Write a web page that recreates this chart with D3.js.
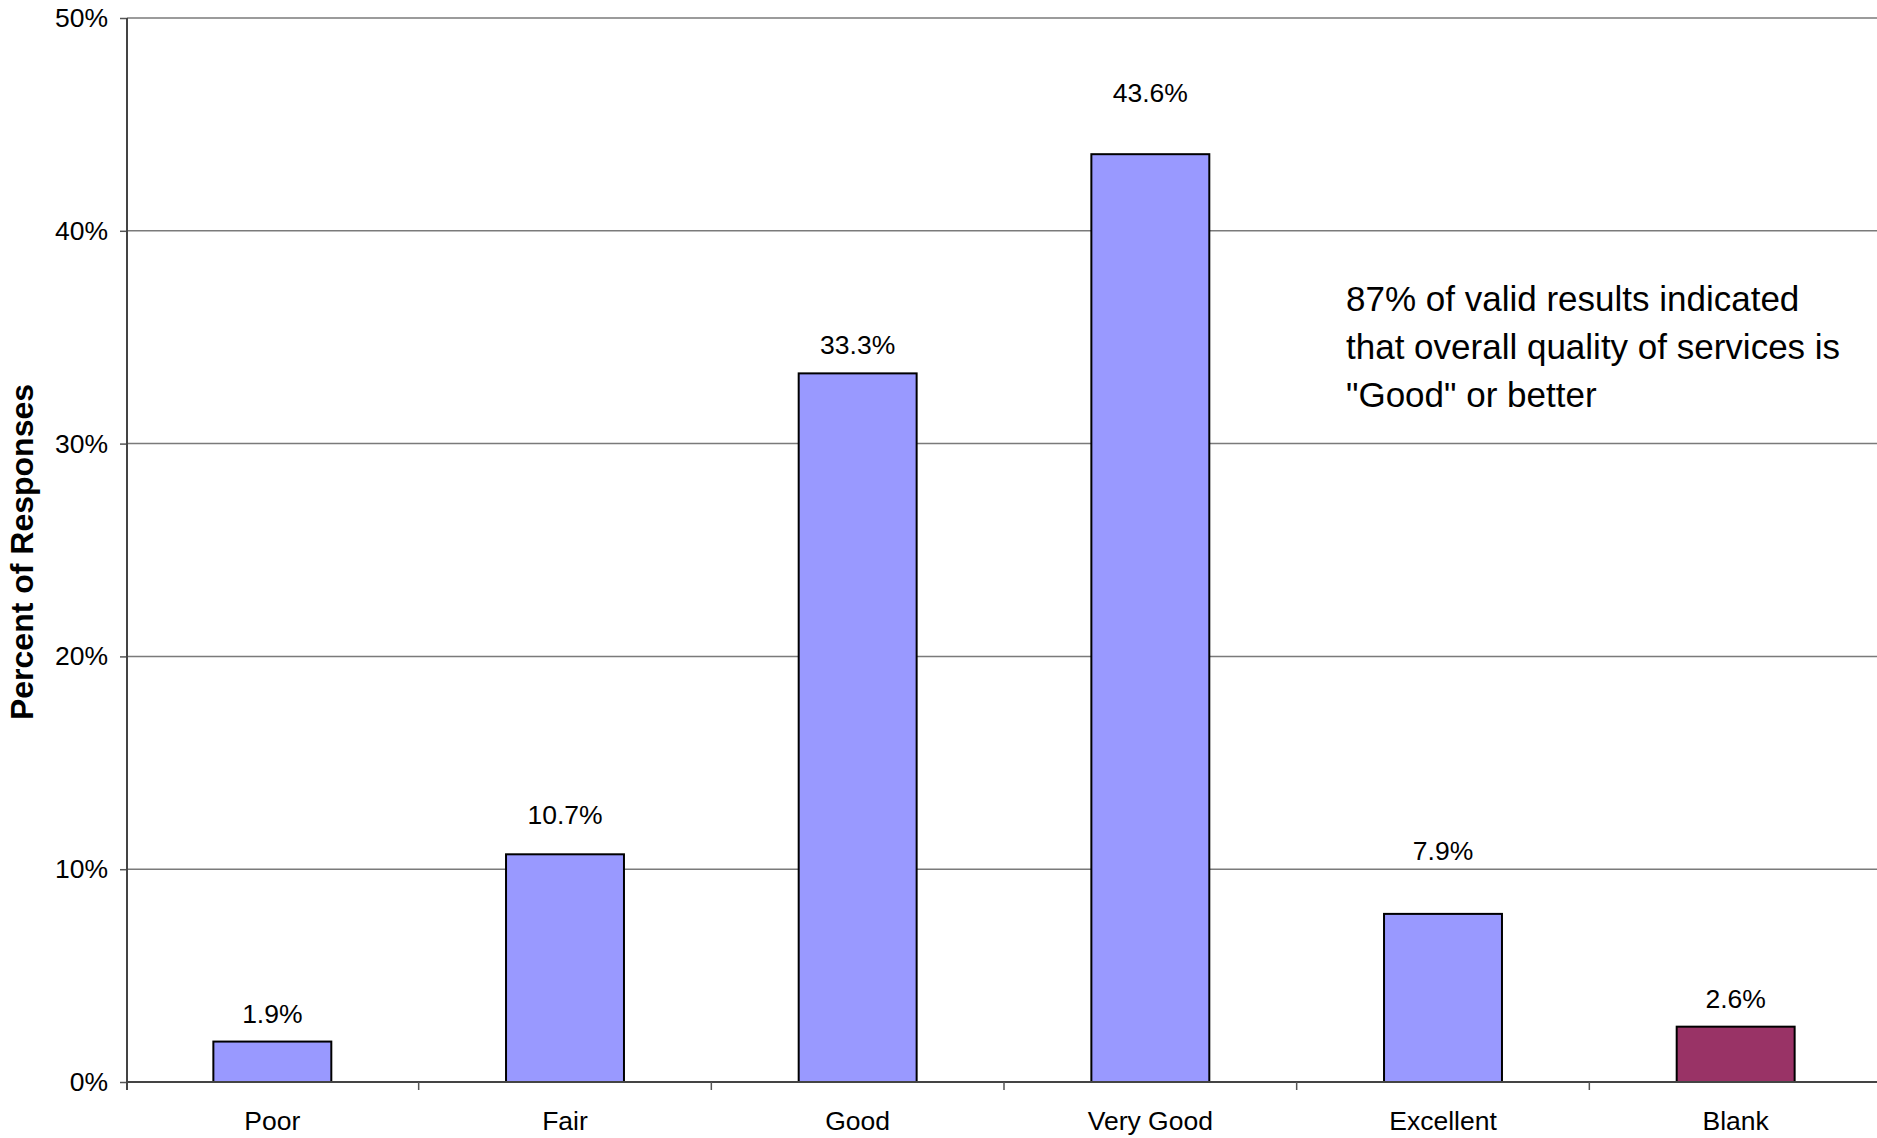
<!DOCTYPE html>
<html>
<head>
<meta charset="utf-8">
<script src="https://cdn.jsdelivr.net/npm/d3@7"></script>
<style>
  html, body { margin: 0; padding: 0; background: #fff; }
  svg { display: block; }
  text { font-family: "Liberation Sans", Arial, sans-serif; fill: #000; }
</style>
</head>
<body>
<svg id="chart" width="1877" height="1138"></svg>
<script>
// Survey responses: overall quality of services
const categories = ["Poor", "Fair", "Good", "Very Good", "Excellent", "Blank"];
const percents = [1.9, 10.7, 33.3, 43.6, 7.9, 2.6];
const yTicks = [0, 10, 20, 30, 40, 50];
const noteLines = [
  "87% of valid results indicated",
  "that overall quality of services is",
  "\"Good\" or better"
];
const yTitle = "Percent of Responses";

// Layout
const W = 1877, H = 1138;
const plot = { left: 127, top: 18, bottom: 1082, right: 1882 };
const validFill = "#9999FF", blankFill = "#993366";
// vertical distance (px) between bar top and its value label baseline
const labelGap = [19, 30, 19, 52, 54, 19];

const svg = d3.select("#chart");

const x = d3.scaleBand()
  .domain(categories)
  .range([plot.left - 1, plot.right])
  .padding(0);

const y = d3.scaleLinear()
  .domain([0, 50])
  .range([plot.bottom, plot.top]);

const barW = x.bandwidth() * 0.403;

// Horizontal gridlines
svg.append("g")
  .selectAll("line")
  .data(yTicks.filter(d => d > 0))
  .join("line")
  .attr("x1", plot.left).attr("x2", W)
  .attr("y1", d => y(d)).attr("y2", d => y(d))
  .attr("stroke", "#7a7a7a")
  .attr("stroke-width", 1.5);

// Y axis with tick labels
const yAxis = d3.axisLeft(y)
  .tickValues(yTicks)
  .tickFormat(d => d + "%")
  .tickSize(7)
  .tickPadding(12);

const gy = svg.append("g")
  .attr("transform", `translate(${plot.left},0)`)
  .call(yAxis);
gy.select(".domain").remove();
gy.selectAll(".tick line").attr("stroke", "#555").attr("stroke-width", 1.5);
gy.selectAll(".tick text")
  .attr("font-size", 26.5)
  .attr("font-family", "'Liberation Sans', Arial, sans-serif")
  .attr("fill", "#000");

// Bars
svg.append("g")
  .selectAll("rect")
  .data(categories.map((c, i) => ({ c, v: percents[i], i })))
  .join("rect")
  .attr("x", d => x(d.c) + (x.bandwidth() - barW) / 2)
  .attr("y", d => y(d.v))
  .attr("width", barW)
  .attr("height", d => y(0) - y(d.v))
  .attr("fill", d => d.c === "Blank" ? blankFill : validFill)
  .attr("stroke", "#000")
  .attr("stroke-width", 2);

// Value labels
svg.append("g")
  .selectAll("text")
  .data(categories.map((c, i) => ({ c, v: percents[i], i })))
  .join("text")
  .attr("x", d => x(d.c) + x.bandwidth() / 2)
  .attr("y", d => y(d.v) - labelGap[d.i])
  .attr("text-anchor", "middle")
  .attr("font-size", 26.5)
  .text(d => d.v.toFixed(1) + "%");

// X axis baseline, category ticks and labels
const xAxisG = svg.append("g");
xAxisG.append("line")
  .attr("x1", plot.left).attr("x2", W)
  .attr("y1", y(0)).attr("y2", y(0))
  .attr("stroke", "#444").attr("stroke-width", 2);

const boundaries = categories.slice(1).map(c => x(c));
xAxisG.selectAll("line.cat-tick")
  .data(boundaries)
  .join("line")
  .attr("class", "cat-tick")
  .attr("x1", d => d).attr("x2", d => d)
  .attr("y1", y(0)).attr("y2", y(0) + 8)
  .attr("stroke", "#555").attr("stroke-width", 1.5);

xAxisG.selectAll("text")
  .data(categories)
  .join("text")
  .attr("x", d => x(d) + x.bandwidth() / 2)
  .attr("y", 1130)
  .attr("text-anchor", "middle")
  .attr("font-size", 26.5)
  .text(d => d);

// Y axis line (drawn last so it sits above the bars' baseline)
svg.append("line")
  .attr("x1", plot.left).attr("x2", plot.left)
  .attr("y1", plot.top).attr("y2", y(0) + 8)
  .attr("stroke", "#444").attr("stroke-width", 2);

// Y axis title
svg.append("text")
  .attr("transform", `translate(33, ${(plot.top + plot.bottom) / 2 + 2}) rotate(-90)`)
  .attr("text-anchor", "middle")
  .attr("font-size", 32)
  .attr("font-weight", "bold")
  .text(yTitle);

// Note text
svg.append("g")
  .selectAll("text")
  .data(noteLines)
  .join("text")
  .attr("x", 1346)
  .attr("y", (d, i) => 311 + i * 48)
  .attr("font-size", 35)
  .text(d => d);
</script>
</body>
</html>
